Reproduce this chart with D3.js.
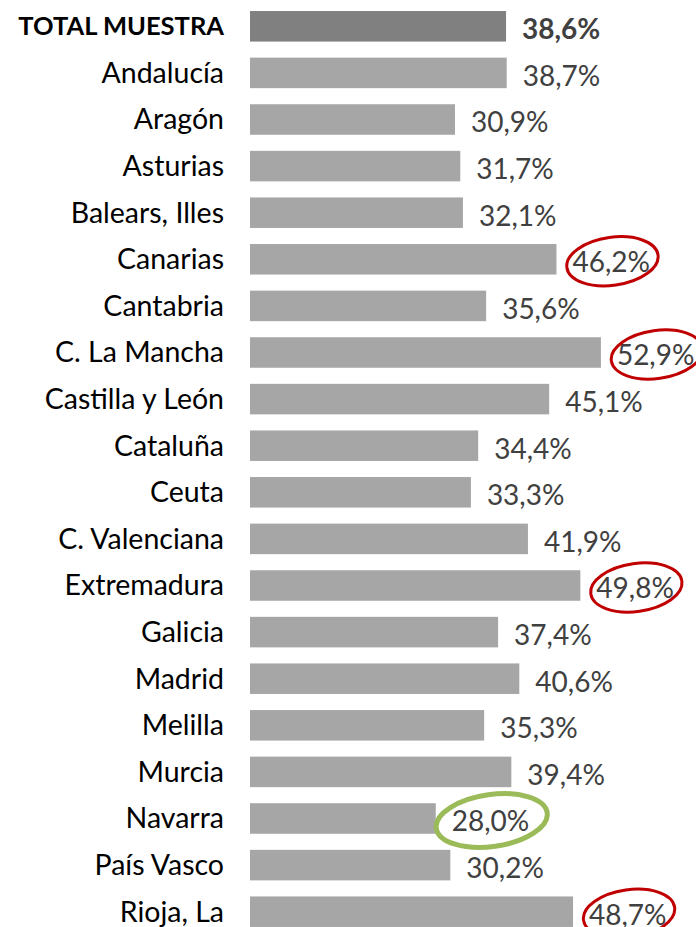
<!DOCTYPE html>
<html lang="es">
<head>
    <meta charset="UTF-8">
    <title>Porcentaje por comunidad</title>
    <script src="https://d3js.org/d3.v7.min.js"></script>
    <style>
        body { margin: 0; background: #fff; }
        text { font-family: Lato, "Open Sans", sans-serif; }
    </style>
</head>
<body>
    <script>
        //Data
        var regions = ["TOTAL MUESTRA", "Andalucía", "Aragón", "Asturias", "Balears, Illes", "Canarias",
            "Cantabria", "C. La Mancha", "Castilla y León", "Cataluña", "Ceuta", "C. Valenciana",
            "Extremadura", "Galicia", "Madrid", "Melilla", "Murcia", "Navarra", "País Vasco", "Rioja, La"];
        var values = [38.6, 38.7, 30.9, 31.7, 32.1, 46.2, 35.6, 52.9, 45.1, 34.4, 33.3, 41.9,
            49.8, 37.4, 40.6, 35.3, 39.4, 28.0, 30.2, 48.7];
        var highlightRed = ["Canarias", "C. La Mancha", "Extremadura", "Rioja, La"];
        var highlightGreen = ["Navarra"];

        var dataset = regions.map(function(r, i) { return { name: r, value: values[i] }; });

        //SVG dimensions
        var w = 696;
        var h = 927;
        var labelGap = 16;

        var svg = d3.select("body")
            .append("svg")
            .attr("width", w)
            .attr("height", h);

        var yScale = d3.scaleBand()
            .domain(regions)
            .range([3, 935])
            .paddingInner(0.345)
            .paddingOuter(0.1725);

        var xScale = d3.scaleLinear()
            .domain([0, 60])
            .range([250, 648]);

        var fmt = function(v) { return d3.format(".1f")(v).replace(".", ",") + "%"; };

        //Bars
        svg.selectAll("rect")
            .data(dataset)
            .enter()
            .append("rect")
            .attr("x", xScale(0))
            .attr("y", function(d) { return yScale(d.name); })
            .attr("width", function(d) { return xScale(d.value) - xScale(0); })
            .attr("height", yScale.bandwidth())
            .attr("fill", function(d, i) { return i == 0 ? "#808080" : "#a6a6a6"; });

        //Category labels
        svg.selectAll("text.cat")
            .data(dataset)
            .enter()
            .append("text")
            .attr("class", "cat")
            .attr("x", 224)
            .attr("y", function(d) { return yScale(d.name) + yScale.bandwidth() / 2; })
            .attr("dy", "0.35em")
            .attr("text-anchor", "end")
            .style("font-size", function(d, i) { return i == 0 ? "25.5px" : "28.5px"; })
            .style("font-weight", function(d, i) { return i == 0 ? "bold" : "normal"; })
            .style("fill", "#000")
            .text(function(d) { return d.name; });

        //Value labels
        svg.selectAll("text.val")
            .data(dataset)
            .enter()
            .append("text")
            .attr("class", "val")
            .attr("x", function(d) { return xScale(d.value) + labelGap; })
            .attr("y", function(d) { return yScale(d.name) + yScale.bandwidth() / 2 + 3; })
            .attr("dy", "0.35em")
            .style("font-size", "28px")
            .style("font-weight", function(d, i) { return i == 0 ? "bold" : "normal"; })
            .style("fill", "#404040")
            .text(function(d) { return fmt(d.value); });

        //Hand-drawn style circles around highlighted values
        var marks = dataset.filter(function(d) {
            return highlightRed.indexOf(d.name) >= 0 || highlightGreen.indexOf(d.name) >= 0;
        });
        svg.selectAll("ellipse")
            .data(marks)
            .enter()
            .append("ellipse")
            .attr("cx", 0)
            .attr("cy", 0)
            .attr("rx", function(d) { return highlightGreen.indexOf(d.name) >= 0 ? 56 : 46; })
            .attr("ry", function(d) { return highlightGreen.indexOf(d.name) >= 0 ? 26 : 24; })
            .attr("transform", function(d) {
                var cx = xScale(d.value) + labelGap + 40;
                var cy = yScale(d.name) + yScale.bandwidth() / 2 + 2;
                return "translate(" + cx + "," + cy + ") rotate(-8)";
            })
            .attr("fill", "none")
            .attr("stroke", function(d) { return highlightGreen.indexOf(d.name) >= 0 ? "#9bbb59" : "#c00000"; })
            .attr("stroke-width", function(d) { return highlightGreen.indexOf(d.name) >= 0 ? 5 : 3; });
    </script>
</body>
</html>
